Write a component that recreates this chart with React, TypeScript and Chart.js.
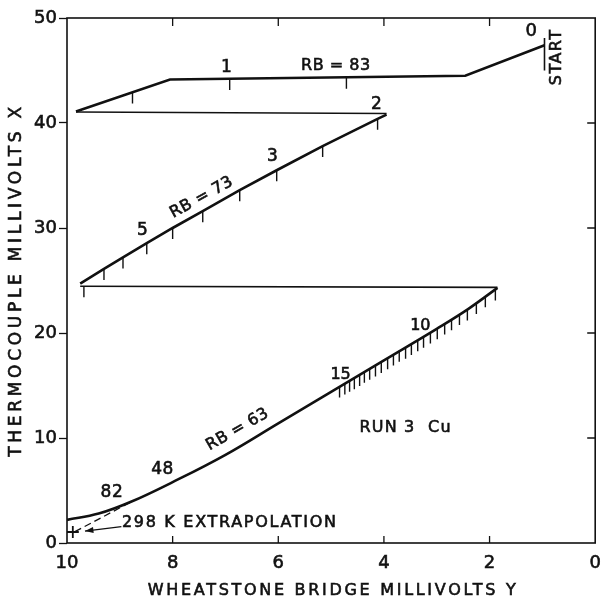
import { useEffect, useRef } from "react";
import { Chart, registerables } from "chart.js";

Chart.register(...registerables);

type Pt = [number, number];

const FONT = '"DejaVu Sans", "Liberation Sans", sans-serif';
const INK = "#111111";

// Axis ranges and tick values
const xTickValues = [0, 2, 4, 6, 8, 10];
const yTickValues = [0, 10, 20, 30, 40, 50];

// RB = 83 run, from the start point
const rb83Path: Pt[] = [
  [0.96, 47.4],
  [2.46, 44.5],
  [8.05, 44.15],
  [9.83, 41.1],
];
const reset1Path: Pt[] = [
  [9.83, 41.05],
  [3.95, 40.9],
];
// RB = 73 run
const rb73Path: Pt[] = [
  [9.75, 24.7],
  [9.3, 26.1],
  [8.94, 27.2],
  [8.49, 28.55],
  [8.0, 30.0],
  [7.43, 31.6],
  [6.73, 33.6],
  [6.03, 35.5],
  [5.16, 37.8],
  [4.12, 40.4],
  [3.95, 40.8],
];
const reset2Path: Pt[] = [
  [9.75, 24.45],
  [1.85, 24.35],
];
// RB = 63 run (smooth)
const rb63Path: Pt[] = [
  [10.0, 2.2],
  [9.4, 2.8],
  [8.8, 3.9],
  [8.0, 5.8],
  [7.0, 8.4],
  [6.0, 11.4],
  [5.0, 14.4],
  [4.0, 17.4],
  [3.0, 20.4],
  [2.4, 22.3],
  [1.85, 24.3],
];
const startMarker: Pt[] = [
  [0.96, 48.1],
  [0.96, 45.0],
];
const extrapolation: Pt[] = [
  [9.85, 1.08],
  [8.78, 3.93],
];
const arrowLine: Pt[] = [
  [8.97, 1.55],
  [9.66, 1.14],
];
const roomTempPoint: Pt[] = [[9.89, 1.05]];

// Reading marks hanging below the runs
const rb83Marks: Pt[] = [
  [8.76, 42.9],
  [6.92, 44.2],
  [4.71, 44.3],
];
const rb73Marks: Pt[] = [
  [9.68, 24.45],
  [9.3, 26.1],
  [8.94, 27.2],
  [8.49, 28.55],
  [8.0, 30.0],
  [7.43, 31.6],
  [6.73, 33.6],
  [6.03, 35.5],
  [5.16, 37.8],
  [4.12, 40.4],
];
const rb63Marks: Pt[] = [
  [4.84, 14.9],
  [4.74, 15.2],
  [4.65, 15.45],
  [4.56, 15.7],
  [4.46, 16.0],
  [4.37, 16.3],
  [4.27, 16.6],
  [4.16, 16.9],
  [4.05, 17.25],
  [3.93, 17.6],
  [3.82, 17.95],
  [3.71, 18.3],
  [3.59, 18.6],
  [3.48, 18.95],
  [3.36, 19.3],
  [3.25, 19.65],
  [3.12, 20.05],
  [2.99, 20.45],
  [2.85, 20.9],
  [2.72, 21.3],
  [2.57, 21.8],
  [2.42, 22.25],
  [2.25, 22.85],
  [2.08, 23.5],
  [1.89, 24.15],
];

// Text notes: text, x, y, rotation (deg), font size, letter spacing, alignment
type Note = [string, number, number, number, number, number, CanvasTextAlign];
const notes: Note[] = [
  ["0", 1.21, 48.7, 0, 18, 0, "center"],
  ["START", 0.72, 46.3, -90, 16, 1.5, "center"],
  ["1", 6.98, 45.3, 0, 17, 0, "center"],
  ["RB = 83", 4.91, 45.4, 0, 16, 0.5, "center"],
  ["2", 4.14, 41.8, 0, 17, 0, "center"],
  ["3", 6.11, 36.8, 0, 17, 0, "center"],
  ["RB = 73", 7.45, 32.9, -29, 16, 0.5, "center"],
  ["5", 8.57, 29.8, 0, 17, 0, "center"],
  ["RB = 63", 6.77, 10.8, -30, 16, 0.5, "center"],
  ["48", 8.19, 7.0, 0, 17, 0.5, "center"],
  ["82", 9.15, 4.8, 0, 17, 0.5, "center"],
  ["15", 4.82, 16.0, 0, 16, 0, "center"],
  ["10", 3.31, 20.7, 0, 16, 0, "center"],
  ["RUN 3  Cu", 3.59, 11.0, 0, 16, 1.2, "center"],
  ["298 K EXTRAPOLATION", 8.96, 1.9, 0, 16, 1.7, "left"],
];

const xTitle = "WHEATSTONE BRIDGE MILLIVOLTS Y";
const yTitle = "THERMOCOUPLE MILLIVOLTS X";

const toData = (pts: Pt[]) => pts.map(([x, y]) => ({ x, y }));

const line = (data: Pt[], width: number, extra: Record<string, unknown> = {}) => ({
  data: toData(data),
  borderColor: INK,
  backgroundColor: INK,
  borderWidth: width,
  pointRadius: 0,
  fill: false,
  tension: 0,
  showLine: true,
  ...extra,
});

const drawText = (ctx: CanvasRenderingContext2D, text: string, x: number, y: number) => {
  ctx.fillText(text, x, y);
  ctx.strokeText(text, x, y);
};

const decorations = {
  id: "decorations",
  afterDatasetsDraw(chart: any) {
    const { ctx, chartArea: a, scales } = chart;
    const xs = scales.x;
    const ys = scales.y;
    ctx.save();

    // frame
    ctx.strokeStyle = INK;
    ctx.lineWidth = 1.6;
    ctx.strokeRect(a.left, a.top, a.right - a.left, a.bottom - a.top);

    // inward ticks on bottom, top and right edges
    ctx.lineWidth = 1.3;
    ctx.beginPath();
    xTickValues.forEach((v) => {
      if (v === 0 || v === 10) return;
      const px = xs.getPixelForValue(v);
      ctx.moveTo(px, a.bottom);
      ctx.lineTo(px, a.bottom - 7);
      ctx.moveTo(px, a.top);
      ctx.lineTo(px, a.top + 8);
    });
    yTickValues.forEach((v) => {
      if (v === 0 || v === 50) return;
      const py = ys.getPixelForValue(v);
      ctx.moveTo(a.right, py);
      ctx.lineTo(a.right - 8, py);
    });
    ctx.stroke();

    // reading marks
    ctx.lineWidth = 1.4;
    ctx.beginPath();
    [...rb83Marks, ...rb73Marks, ...rb63Marks].forEach(([x, y]) => {
      const px = xs.getPixelForValue(x);
      const py = ys.getPixelForValue(y);
      ctx.moveTo(px, py);
      ctx.lineTo(px, py + 11);
    });
    ctx.stroke();

    // arrowhead on the extrapolation pointer
    const [p0, p1] = arrowLine;
    const ax0 = xs.getPixelForValue(p0[0]);
    const ay0 = ys.getPixelForValue(p0[1]);
    const ax1 = xs.getPixelForValue(p1[0]);
    const ay1 = ys.getPixelForValue(p1[1]);
    const ang = Math.atan2(ay1 - ay0, ax1 - ax0);
    ctx.fillStyle = INK;
    ctx.beginPath();
    ctx.moveTo(ax1, ay1);
    ctx.lineTo(ax1 - 9 * Math.cos(ang - 0.35), ay1 - 9 * Math.sin(ang - 0.35));
    ctx.lineTo(ax1 - 9 * Math.cos(ang + 0.35), ay1 - 9 * Math.sin(ang + 0.35));
    ctx.closePath();
    ctx.fill();

    // notes
    ctx.fillStyle = INK;
    ctx.strokeStyle = INK;
    ctx.lineWidth = 0.6;
    ctx.textBaseline = "middle";
    notes.forEach(([text, x, y, rot, size, spacing, align]) => {
      ctx.save();
      ctx.translate(xs.getPixelForValue(x), ys.getPixelForValue(y));
      ctx.rotate((rot * Math.PI) / 180);
      ctx.font = `${size}px ${FONT}`;
      ctx.textAlign = align;
      (ctx as any).letterSpacing = `${spacing}px`;
      drawText(ctx, text, 0, 0);
      ctx.restore();
    });

    // axis titles
    ctx.save();
    ctx.font = `16px ${FONT}`;
    ctx.textAlign = "center";
    (ctx as any).letterSpacing = "2.7px";
    drawText(ctx, xTitle, (a.left + a.right) / 2 + 2, 591);
    ctx.restore();

    ctx.save();
    ctx.translate(17, 280);
    ctx.rotate(-Math.PI / 2);
    ctx.font = `17px ${FONT}`;
    ctx.textAlign = "center";
    (ctx as any).letterSpacing = "3.7px";
    drawText(ctx, yTitle, 0, 0);
    ctx.restore();

    ctx.restore();
  },
};

export default function App() {
  const canvasRef = useRef<HTMLCanvasElement | null>(null);

  useEffect(() => {
    const canvas = canvasRef.current;
    if (!canvas) return;
    const chart = new Chart(canvas, {
      type: "scatter",
      data: {
        datasets: [
          line(rb83Path, 2.6),
          line(reset1Path, 1.6),
          line(rb73Path, 2.6),
          line(reset2Path, 1.6),
          line(rb63Path, 2.6, { tension: 0.4 }),
          line(startMarker, 1.6),
          line(extrapolation, 1.3, { borderDash: [7, 4] }),
          line(arrowLine, 1.3),
          {
            data: toData(roomTempPoint),
            showLine: false,
            pointStyle: "cross",
            pointRadius: 6,
            pointBorderWidth: 1.8,
            borderColor: INK,
            backgroundColor: INK,
          },
        ],
      },
      options: {
        animation: false,
        responsive: false,
        devicePixelRatio: 1,
        layout: { padding: { top: 18, right: 7, left: 0, bottom: 0 } },
        plugins: {
          legend: { display: false },
          tooltip: { enabled: false },
        },
        scales: {
          x: {
            type: "linear",
            reverse: true,
            min: 0,
            max: 10,
            afterFit: (s: any) => {
              s.height = 61;
            },
            afterBuildTicks: (s: any) => {
              s.ticks = xTickValues.map((v) => ({ value: v }));
            },
            grid: { display: false },
            border: { display: false },
            ticks: {
              color: INK,
              padding: 2,
              maxRotation: 0,
              textStrokeColor: INK,
              textStrokeWidth: 0.6,
              font: { family: FONT, size: 18 },
            },
          },
          y: {
            type: "linear",
            min: 0,
            max: 50,
            afterFit: (s: any) => {
              s.width = 67;
            },
            afterBuildTicks: (s: any) => {
              s.ticks = yTickValues.map((v) => ({ value: v }));
            },
            grid: {
              drawOnChartArea: false,
              drawTicks: true,
              tickLength: 8,
              tickWidth: 1.3,
              tickColor: INK,
              color: INK,
            },
            border: { display: false },
            ticks: {
              color: INK,
              padding: 2,
              textStrokeColor: INK,
              textStrokeWidth: 0.6,
              font: { family: FONT, size: 18 },
            },
          },
        },
      },
      plugins: [decorations],
    });
    return () => chart.destroy();
  }, []);

  return (
    <div style={{ position: "absolute", left: 0, top: 0, width: 603, height: 604, background: "#fff" }}>
      <canvas ref={canvasRef} width={603} height={604} style={{ display: "block" }} />
    </div>
  );
}
